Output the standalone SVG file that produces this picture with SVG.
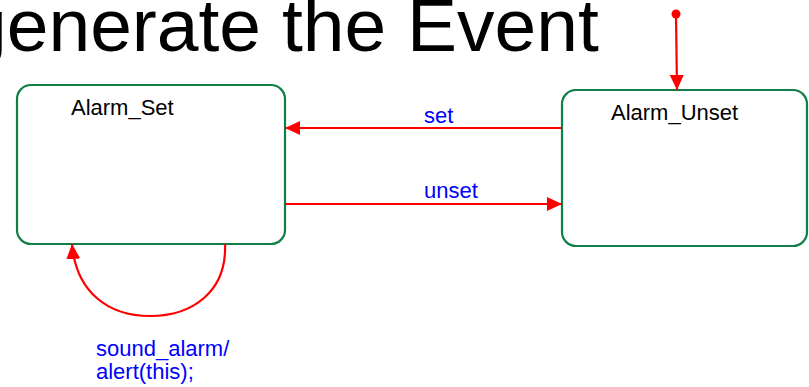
<svg xmlns="http://www.w3.org/2000/svg" width="809" height="387" viewBox="0 0 809 387">
  <style>
    .state { fill: #ffffff; stroke: #0f7f45; stroke-width: 2.2; }
    .name { font-family: "Liberation Sans", Arial, sans-serif; font-size: 22px; fill: #000000; }
    .edge { fill: none; stroke: #ff0000; stroke-width: 2.2; }
    .label { font-family: "Liberation Sans", Arial, sans-serif; font-size: 22px; fill: #0000ff; }
    .title { font-family: "Liberation Sans", Arial, sans-serif; font-size: 75px; fill: #000000; }
  </style>
  <defs>
    <marker id="arrow" viewBox="0 0 15 14" refX="15" refY="7" markerWidth="15" markerHeight="14" markerUnits="userSpaceOnUse" orient="auto">
      <path d="M0,0 L15,7 L0,14 Z" fill="#ff0000"/>
    </marker>
  </defs>

  <rect width="809" height="387" fill="#ffffff"/>

  <!-- heading, running off the left and top edges -->
  <text class="title" x="-35" y="51">generate the Event</text>

  <!-- states -->
  <g id="alarm-set">
    <rect class="state" x="17" y="85" width="268" height="159" rx="14" ry="14"/>
    <text class="name" x="71" y="115">Alarm_Set</text>
  </g>
  <g id="alarm-unset">
    <rect class="state" x="562" y="90" width="245" height="156" rx="14" ry="14"/>
    <text class="name" x="611" y="120">Alarm_Unset</text>
  </g>

  <!-- transitions -->
  <g id="connectors">
    <circle cx="676" cy="14" r="4.5" fill="#ff0000"/>
    <path class="edge" d="M676,14 L677,90" marker-end="url(#arrow)"/>
    <path class="edge" d="M562,128 L285,128" marker-end="url(#arrow)"/>
    <path class="edge" d="M285,204 L562,204" marker-end="url(#arrow)"/>
    <path class="edge" d="M225,244 C227,292 192,316 150,316 C108,316 76,292 72,244" marker-end="url(#arrow)"/>
    <text class="label" x="424" y="123">set</text>
    <text class="label" x="424" y="198">unset</text>
    <text class="label" x="96" y="356">sound_alarm/</text>
    <text class="label" x="96" y="379">alert(this);</text>
  </g>
</svg>
